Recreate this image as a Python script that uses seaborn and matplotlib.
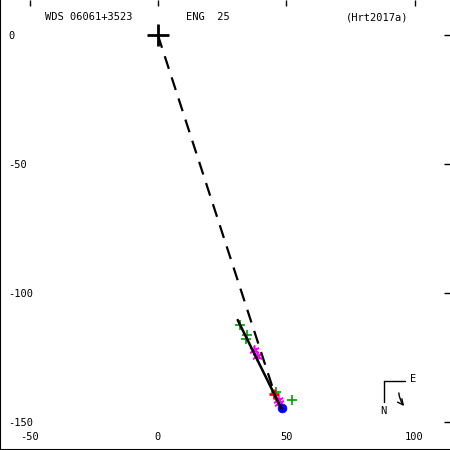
import matplotlib
matplotlib.use("Agg")
import matplotlib.pyplot as plt
import seaborn as sns

green_x = [31.9, 34.6, 34.2, 45.9, 52.1]
green_y = [-112.4, -116.3, -117.8, -138.4, -141.5]
magenta_x = [37.4, 38.5, 46.7, 47.1]
magenta_y = [-122.1, -124.4, -141.5, -142.6]
red_x = [45.1]
red_y = [-139.1]
last_x = [48.2]
last_y = [-144.6]

# Fitted linear motion and connector from primary
fit_x = [31.1, 48.2]
fit_y = [-110.5, -145.0]
dash_x = [0, 45.0]
dash_y = [0, -137.6]

xticks = [-50, 0, 50, 100]
yticks = [0, -50, -100, -150]

sns.set_style("white")
plt.rcParams["font.family"] = ["DejaVu Sans Mono"]
plt.rcParams["axes.unicode_minus"] = False
plt.rcParams["text.color"] = "black"
plt.rcParams["xtick.color"] = "black"
plt.rcParams["ytick.color"] = "black"

fig = plt.figure(figsize=(4.5, 4.5), dpi=100)
ax = fig.add_axes([0, 0, 1, 1])

sns.lineplot(x=dash_x, y=dash_y, ax=ax, color="black", lw=1.6, sort=False,
             linestyle=(0, (6, 4)))
sns.lineplot(x=fit_x, y=fit_y, ax=ax, color="black", lw=1.8, sort=False)

sns.scatterplot(x=green_x, y=green_y, ax=ax, marker="+", color="#00a000",
                s=55, linewidth=1.2)
sns.scatterplot(x=magenta_x, y=magenta_y, ax=ax, marker=(6, 2, 0),
                color="magenta", s=40, linewidth=1.2)
sns.scatterplot(x=red_x, y=red_y, ax=ax, marker="+", color="red",
                s=60, linewidth=2)
sns.scatterplot(x=last_x, y=last_y, ax=ax, marker="o", color="blue",
                s=40, edgecolor="blue")
sns.scatterplot(x=[0], y=[0], ax=ax, marker="+", color="black",
                s=250, linewidth=2)

ax.set_xlim(-61.5, 113.8)
ax.set_ylim(-160.9, 13.6)
ax.set_xticks(xticks)
ax.set_yticks(yticks)
ax.set_xticklabels([str(t) for t in xticks])
ax.set_yticklabels([str(t) for t in yticks])
ax.tick_params(direction="in", length=4, width=1, top=True, right=True,
               labelsize=7.5, color="black", labelcolor="black")
ax.tick_params(axis="y", pad=-6)
ax.tick_params(axis="x", pad=-6)
for lab in ax.get_yticklabels():
    lab.set_horizontalalignment("left")
for lab in ax.get_xticklabels():
    lab.set_verticalalignment("bottom")

for side in ["top", "right"]:
    ax.spines[side].set_visible(False)
for side in ["left", "bottom"]:
    ax.spines[side].set_linewidth(1.5)
    ax.spines[side].set_color("black")

ax.text(0.10, 0.962, "WDS 06061+3523", transform=ax.transAxes, fontsize=7.5,
        va="center")
ax.text(0.414, 0.962, "ENG  25", transform=ax.transAxes, fontsize=7.5,
        va="center")
ax.text(0.768, 0.962, "(Hrt2017a)", transform=ax.transAxes, fontsize=7.5,
        va="center")

# orientation marker
ax.plot([0.853, 0.900], [0.154, 0.154], color="black", lw=1,
        transform=ax.transAxes)
ax.plot([0.853, 0.853], [0.154, 0.107], color="black", lw=1,
        transform=ax.transAxes)
ax.text(0.912, 0.158, "E", transform=ax.transAxes, fontsize=7.5, va="center")
ax.text(0.851, 0.087, "N", transform=ax.transAxes, fontsize=7.5,
        va="center", ha="center")
ax.annotate("", xy=(0.902, 0.093), xytext=(0.886, 0.133),
            xycoords="axes fraction",
            arrowprops=dict(arrowstyle="->", color="black", lw=1,
                            connectionstyle="arc3,rad=0.2"))

fig.savefig("out.png", dpi=100)
